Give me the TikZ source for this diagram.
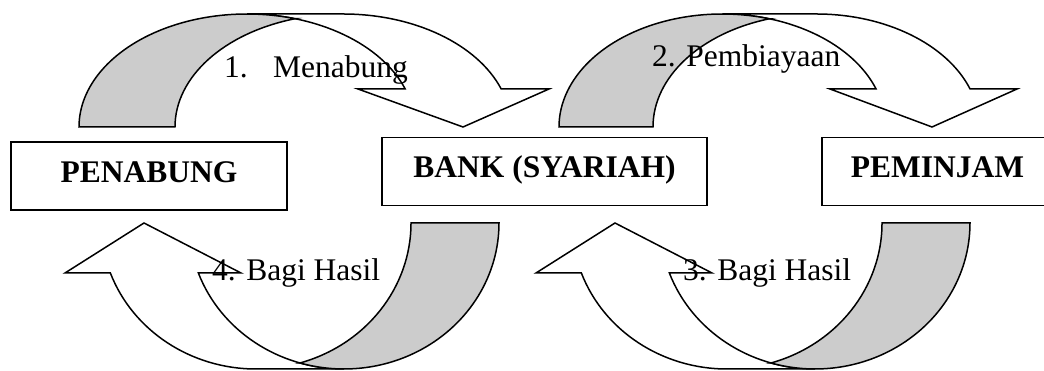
\documentclass[tikz,border=0pt]{standalone}
\usepackage{fontspec}
\setmainfont{Liberation Serif}
\definecolor{bandgray}{RGB}{204,204,204}
\tikzset{
  band/.style={draw=black, fill=white, line width=1.5pt, line join=miter},
  backband/.style={draw=black, fill=bandgray, line width=1.5pt},
  box/.style={draw=black, line width=1.8pt, fill=white, minimum height=68pt,
    text height=21pt, text depth=8pt, inner sep=0pt,
    font=\fontsize{31.5}{36}\selectfont\bfseries},
  lbl/.style={inner sep=0pt, anchor=base west, font=\fontsize{31.5}{36}\selectfont}
}
% curved down arrow: #1 left x, #2 bottom Y, #3 thickness, #4 x radius, #5 y radius,
% #6 head height, #7 left barb x, #8 right barb x, #9 tip x
\newcommand{\CurvDown}[9]{%
  \pgfmathsetmacro{\ArcCA}{#1+#4}%
  \pgfmathsetmacro{\ArcCB}{#1+#4+#3}%
  \pgfmathsetmacro{\ArcAng}{asin(#6/#5)}%
  \pgfmathsetmacro{\ArcBet}{acos((#3/2)/#4)}%
  \pgfmathsetmacro{\ArcYone}{#2+#6}%
  \pgfmathsetmacro{\ArcXfive}{\ArcCA+#4*cos(\ArcAng)}%
  \pgfmathsetmacro{\ArcIx}{\ArcCA+#3/2}%
  \pgfmathsetmacro{\ArcIy}{#2+#5*sin(\ArcBet)}%
  \draw[band] (#9,#2) -- (#7,\ArcYone) -- (\ArcXfive,\ArcYone)
    arc[start angle=\ArcAng, end angle=90, x radius=#4pt, y radius=#5pt]
    -- (\ArcCB,#2+#5)
    arc[start angle=90, end angle=\ArcAng, x radius=#4pt, y radius=#5pt]
    -- (#8,\ArcYone) -- cycle;
  \draw[backband] (\ArcIx,\ArcIy)
    arc[start angle=180-\ArcBet, end angle=180, x radius=#4pt, y radius=#5pt]
    -- (#1,#2)
    arc[start angle=180, end angle=\ArcBet, x radius=#4pt, y radius=#5pt] -- cycle;
}
% curved up arrow (head on the left): #1 right x, #2 top Y, #3 thickness, #4 x radius,
% #5 y radius, #6 head height, #7 left barb x, #8 right barb x, #9 tip x
\newcommand{\CurvUp}[9]{%
  \pgfmathsetmacro{\ArcCA}{#1-#4}%
  \pgfmathsetmacro{\ArcCB}{#1-#4-#3}%
  \pgfmathsetmacro{\ArcAng}{asin(#6/#5)}%
  \pgfmathsetmacro{\ArcBet}{acos((#3/2)/#4)}%
  \pgfmathsetmacro{\ArcYone}{#2-#6}%
  \pgfmathsetmacro{\ArcXfive}{\ArcCA-#4*cos(\ArcAng)}%
  \pgfmathsetmacro{\ArcIx}{\ArcCA-#3/2}%
  \pgfmathsetmacro{\ArcIy}{#2-#5*sin(\ArcBet)}%
  \draw[band] (#9,#2) -- (#8,\ArcYone) -- (\ArcXfive,\ArcYone)
    arc[start angle=180+\ArcAng, end angle=270, x radius=#4pt, y radius=#5pt]
    -- (\ArcCB,#2-#5)
    arc[start angle=270, end angle=180+\ArcAng, x radius=#4pt, y radius=#5pt]
    -- (#7,\ArcYone) -- cycle;
  \draw[backband] (\ArcIx,\ArcIy)
    arc[start angle=-\ArcBet, end angle=0, x radius=#4pt, y radius=#5pt]
    -- (#1,#2)
    arc[start angle=0, end angle=\ArcBet-180, x radius=#4pt, y radius=#5pt] -- cycle;
}
\begin{document}
\begin{tikzpicture}[x=1pt, y=1pt]
  \useasboundingbox (0,0) rectangle (1044,371);
  \clip (0,0) rectangle (1044,371);
  \fill[white] (0,0) rectangle (1044,371);

  % boxes
  \node[box, minimum width=276pt] (penabung) at (149,195) {PENABUNG};
  \node[box, minimum width=325pt] (bank) at (544.5,199.5) {BANK (SYARIAH)};
  \node[box, minimum width=231pt] (peminjam) at (937.5,199.5) {PEMINJAM};

  % curved arrows
  \CurvDown{79}{244}{96}{168}{113}{38}{358}{549}{463}
  \CurvDown{559}{244}{94}{163.3}{113}{38}{830}{1017}{932}
  \CurvUp{499}{148}{88}{155}{146}{50}{65}{241}{144}
  \CurvUp{970}{148}{88}{155}{146}{50}{536}{712}{615}

  % labels
  \node[lbl] (l1num) at (224,293) {1.};
  \node[lbl] (l1txt) at (273,293) {Menabung};
  \node[lbl] (l2) at (652,304) {2. Pembiayaan};
  \node[lbl] (l3) at (683,90) {3. Bagi Hasil};
  \node[lbl] (l4) at (212,90) {4. Bagi Hasil};
\end{tikzpicture}
\end{document}
